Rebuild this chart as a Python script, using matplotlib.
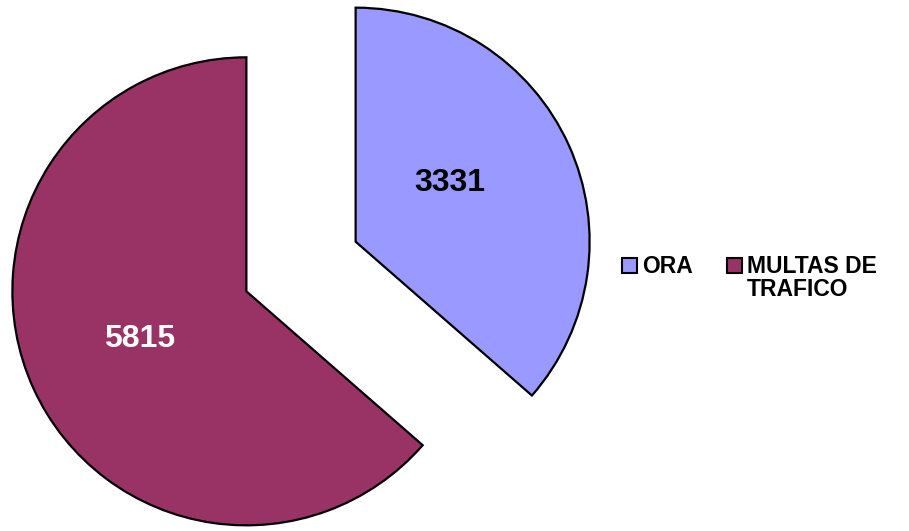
import matplotlib.pyplot as plt
from matplotlib.patches import Rectangle

plt.rcParams['font.family'] = ['Liberation Sans', 'DejaVu Sans']

labels = ['ORA', 'MULTAS DE\nTRAFICO']
values = [3331, 5815]
colors = ['#9999FF', '#993366']
text_colors = ['black', 'white']

W, H = 909, 531
fig = plt.figure(figsize=(W / 100, H / 100), dpi=100)
ax = fig.add_axes([0, 0, 1, 1])

# explode is in data units (pixels here)
ax.pie(values, colors=colors, startangle=90, counterclock=False,
       explode=[60, 60], radius=234, center=(301, 264.5),
       wedgeprops=dict(edgecolor='black', linewidth=1.6),
       frame=True)
ax.set_xlim(0, W)
ax.set_ylim(0, H)
ax.set_aspect('equal')
ax.axis('off')

# value labels
label_pos = [(450, 348), (140, 192)]
for v, (x, y), c in zip(values, label_pos, text_colors):
    ax.text(x, y, str(v), ha='center', va='center', fontsize=23,
            fontweight='bold', color=c)

# legend
leg_x = [622, 727]
for lab, col, x in zip(labels, colors, leg_x):
    ax.add_patch(Rectangle((x, 258), 15, 15, facecolor=col, edgecolor='black',
                           linewidth=1.5))
    ax.text(x + 20, 276, lab, ha='left', va='top', fontsize=16.5,
            fontweight='bold', linespacing=1.0)

fig.savefig('out.png', dpi=100)
